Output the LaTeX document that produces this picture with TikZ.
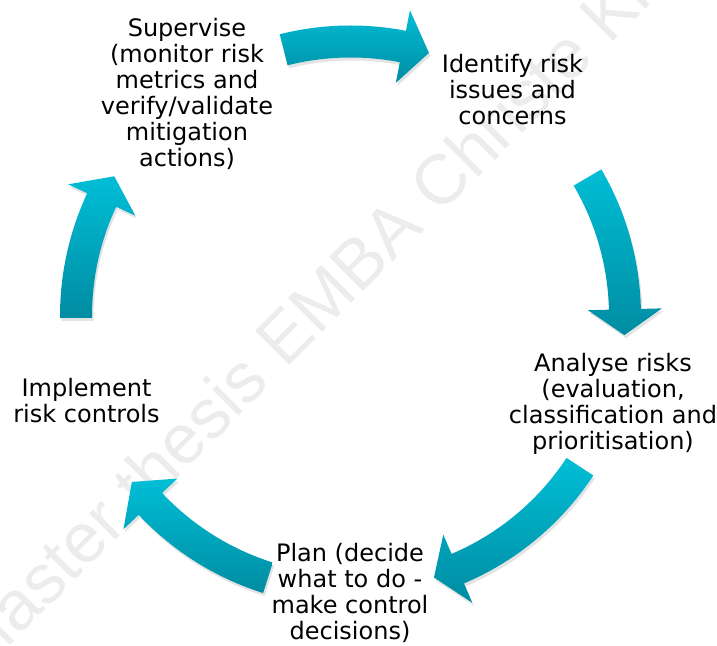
\documentclass[tikz,border=0pt]{standalone}
\usepackage{fontspec}
\setmainfont{DejaVu Sans}
\newfontfamily\markfont{Liberation Sans}
\usepackage{tikz}
\usetikzlibrary{shadows}

\definecolor{cyclight}{RGB}{0,190,214}
\definecolor{cycdark}{RGB}{0,140,162}
\definecolor{wmgray}{RGB}{236,236,236}

% curved block arrow round the hub: tail angle, head base angle, tip angle
\newcommand{\cyclearrow}[3]{%
  \path[cyc] ([shift={(#1:290.5pt)}]hub) arc[start angle=#1, end angle=#2, radius=290.5pt]
    -- ([shift={(#2:311.5pt)}]hub) -- ([shift={(#3:274.5pt)}]hub)
    -- ([shift={(#2:237.5pt)}]hub) -- ([shift={(#2:258.5pt)}]hub)
    arc[start angle=#2, end angle=#1, radius=258.5pt] -- cycle;}

\begin{document}
\begin{tikzpicture}[x=1pt, y=1pt,
    stage/.style={align=center, inner sep=0pt, font=\fontsize{24}{26}\selectfont},
    cyc/.style={top color=cyclight, bottom color=cycdark,
        drop shadow={opacity=0.22, shadow xshift=1.5pt, shadow yshift=-3pt}},
    wmark/.style={text=wmgray, rotate=45, font=\markfont\fontsize{70}{70}\selectfont}
]
    \useasboundingbox (0,0) rectangle (717,645);
    \node[wmark] (mark) at (298,323) {Master thesis EMBA Christe Kl};

    \coordinate (hub) at (350.5,329);

    \node[stage] (supervise) at (187,551) {Supervise\\(monitor risk\\metrics and\\verify/validate\\mitigation\\actions)};
    \node[stage] (identify) at (512.5,555) {Identify risk\\issues and\\concerns};
    \node[stage] (analyse) at (613,241) {Analyse risks\\(evaluation,\\classification and\\prioritisation)};
    \node[stage] (plan) at (350,52) {Plan (decide\\what to do -\\make control\\decisions)};
    \node[stage] (implement) at (86.5,244) {Implement\\risk controls};

    \cyclearrow{104.1}{79.0}{73.4}
    \cyclearrow{30.3}{1.4}{-4.0}
    \cyclearrow{-33.3}{-67.0}{-72.3}
    \cyclearrow{252.5}{223.2}{217.2}
    \cyclearrow{180.4}{155.0}{149.4}
\end{tikzpicture}
\end{document}
